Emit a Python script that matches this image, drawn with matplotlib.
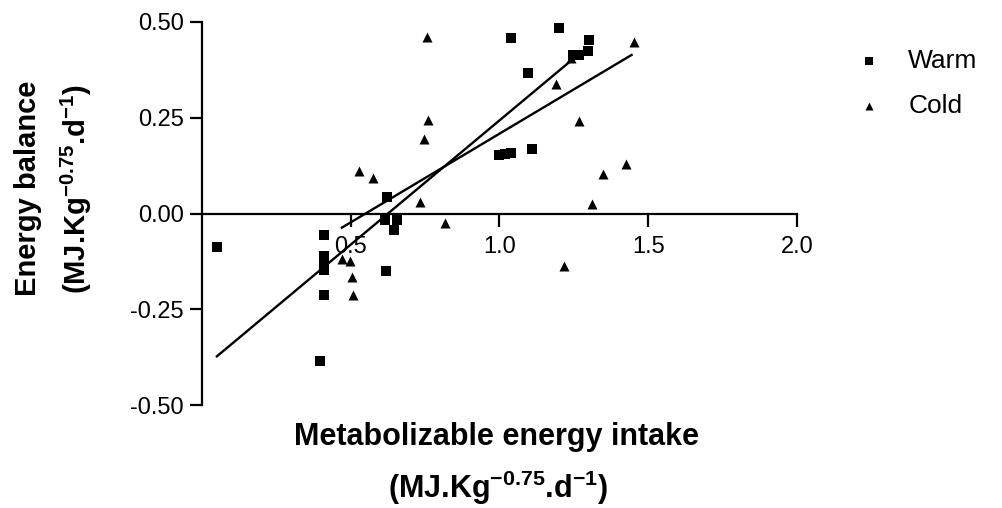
""" Energy balance vs metabolizable energy intake """

import numpy as np
import matplotlib.pyplot as plt

plt.rcParams['font.family'] = ['Liberation Sans', 'DejaVu Sans']
plt.rcParams['axes.unicode_minus'] = False
plt.rcParams['mathtext.fontset'] = 'custom'
plt.rcParams['mathtext.rm'] = 'Liberation Sans:bold'
plt.rcParams['mathtext.default'] = 'rm'

# warm group (squares)
warm_x = [0.05, 0.395, 0.41, 0.41, 0.41, 0.41, 0.41, 0.62, 0.623, 0.615,
          0.654, 0.645, 1.0, 1.02, 1.04, 1.038, 1.097, 1.11, 1.2, 1.248,
          1.268, 1.299, 1.302]
warm_y = [-0.088, -0.384, -0.057, -0.11, -0.13, -0.147, -0.214, -0.149, 0.043, -0.018,
          -0.018, -0.044, 0.154, 0.155, 0.157, 0.459, 0.366, 0.169, 0.485, 0.413,
          0.415, 0.424, 0.454]

# cold group (triangles)
cold_x = [0.47, 0.497, 0.503, 0.509, 0.529, 0.576, 0.733, 0.746, 0.755, 0.761,
          0.817, 1.189, 1.217, 1.24, 1.268, 1.31, 1.347, 1.425, 1.453]
cold_y = [-0.118, -0.123, -0.166, -0.214, 0.11, 0.093, 0.031, 0.195, 0.462, 0.243,
          -0.025, 0.339, -0.136, 0.405, 0.241, 0.024, 0.104, 0.128, 0.447]

# regression lines (end points)
warm_fit_x = [0.05, 1.245]
warm_fit_y = [-0.373, 0.402]
cold_fit_x = [0.47, 1.444]
cold_fit_y = [-0.037, 0.414]

x_ticks = [0.5, 1.0, 1.5, 2.0]
y_ticks = [-0.50, -0.25, 0.00, 0.25, 0.50]

fig = plt.figure(figsize=(10.03, 5.08), dpi=100)
ax = fig.add_axes([202 / 1003, 1 - 405 / 508, 595 / 1003, 383 / 508])

ax.scatter(warm_x, warm_y, marker='s', s=46, color='black', linewidths=0,
           label='Warm', zorder=3)
ax.scatter(cold_x, cold_y, marker='^', s=52, color='black', linewidths=0,
           label='Cold', zorder=3)
ax.plot(warm_fit_x, warm_fit_y, color='black', lw=1.7)
ax.plot(cold_fit_x, cold_fit_y, color='black', lw=1.7)

ax.set_xlim(0, 2.0)
ax.set_ylim(-0.5, 0.5)
ax.spines['top'].set_visible(False)
ax.spines['right'].set_visible(False)
ax.spines['bottom'].set_position(('data', 0))
ax.spines['left'].set_linewidth(1.6)
ax.spines['bottom'].set_linewidth(1.6)

ax.set_xticks(x_ticks)
ax.set_xticklabels(['%.1f' % v for v in x_ticks])
ax.set_yticks(y_ticks)
ax.set_yticklabels(['%.2f' % v for v in y_ticks])
ax.tick_params(axis='both', direction='out', length=9, width=1.6,
               labelsize=17, pad=4)
ax.tick_params(axis='x', pad=7)

fig.text(28 / 1003, 1 - 188 / 508, 'Energy balance', rotation=90, fontsize=21,
         fontweight='bold', ha='center', va='center')
fig.text(76 / 1003, 1 - 189 / 508, r'(MJ.Kg$^{-0.75}$.d$^{-1}$)', rotation=90,
         fontsize=21, fontweight='bold', ha='center', va='center')
fig.text(497 / 1003, 1 - 437 / 508, 'Metabolizable energy intake', fontsize=22,
         fontweight='bold', ha='center', va='center')
fig.text(498 / 1003, 1 - 488 / 508, r'(MJ.Kg$^{-0.75}$.d$^{-1}$)', fontsize=22,
         fontweight='bold', ha='center', va='center')

fig.legend(loc='upper left', bbox_to_anchor=(0.828, 0.95), frameon=False,
           fontsize=19, handlelength=1.1, handletextpad=0.95, labelspacing=0.8,
           markerscale=0.8)

plt.savefig('out.png', dpi=100)
